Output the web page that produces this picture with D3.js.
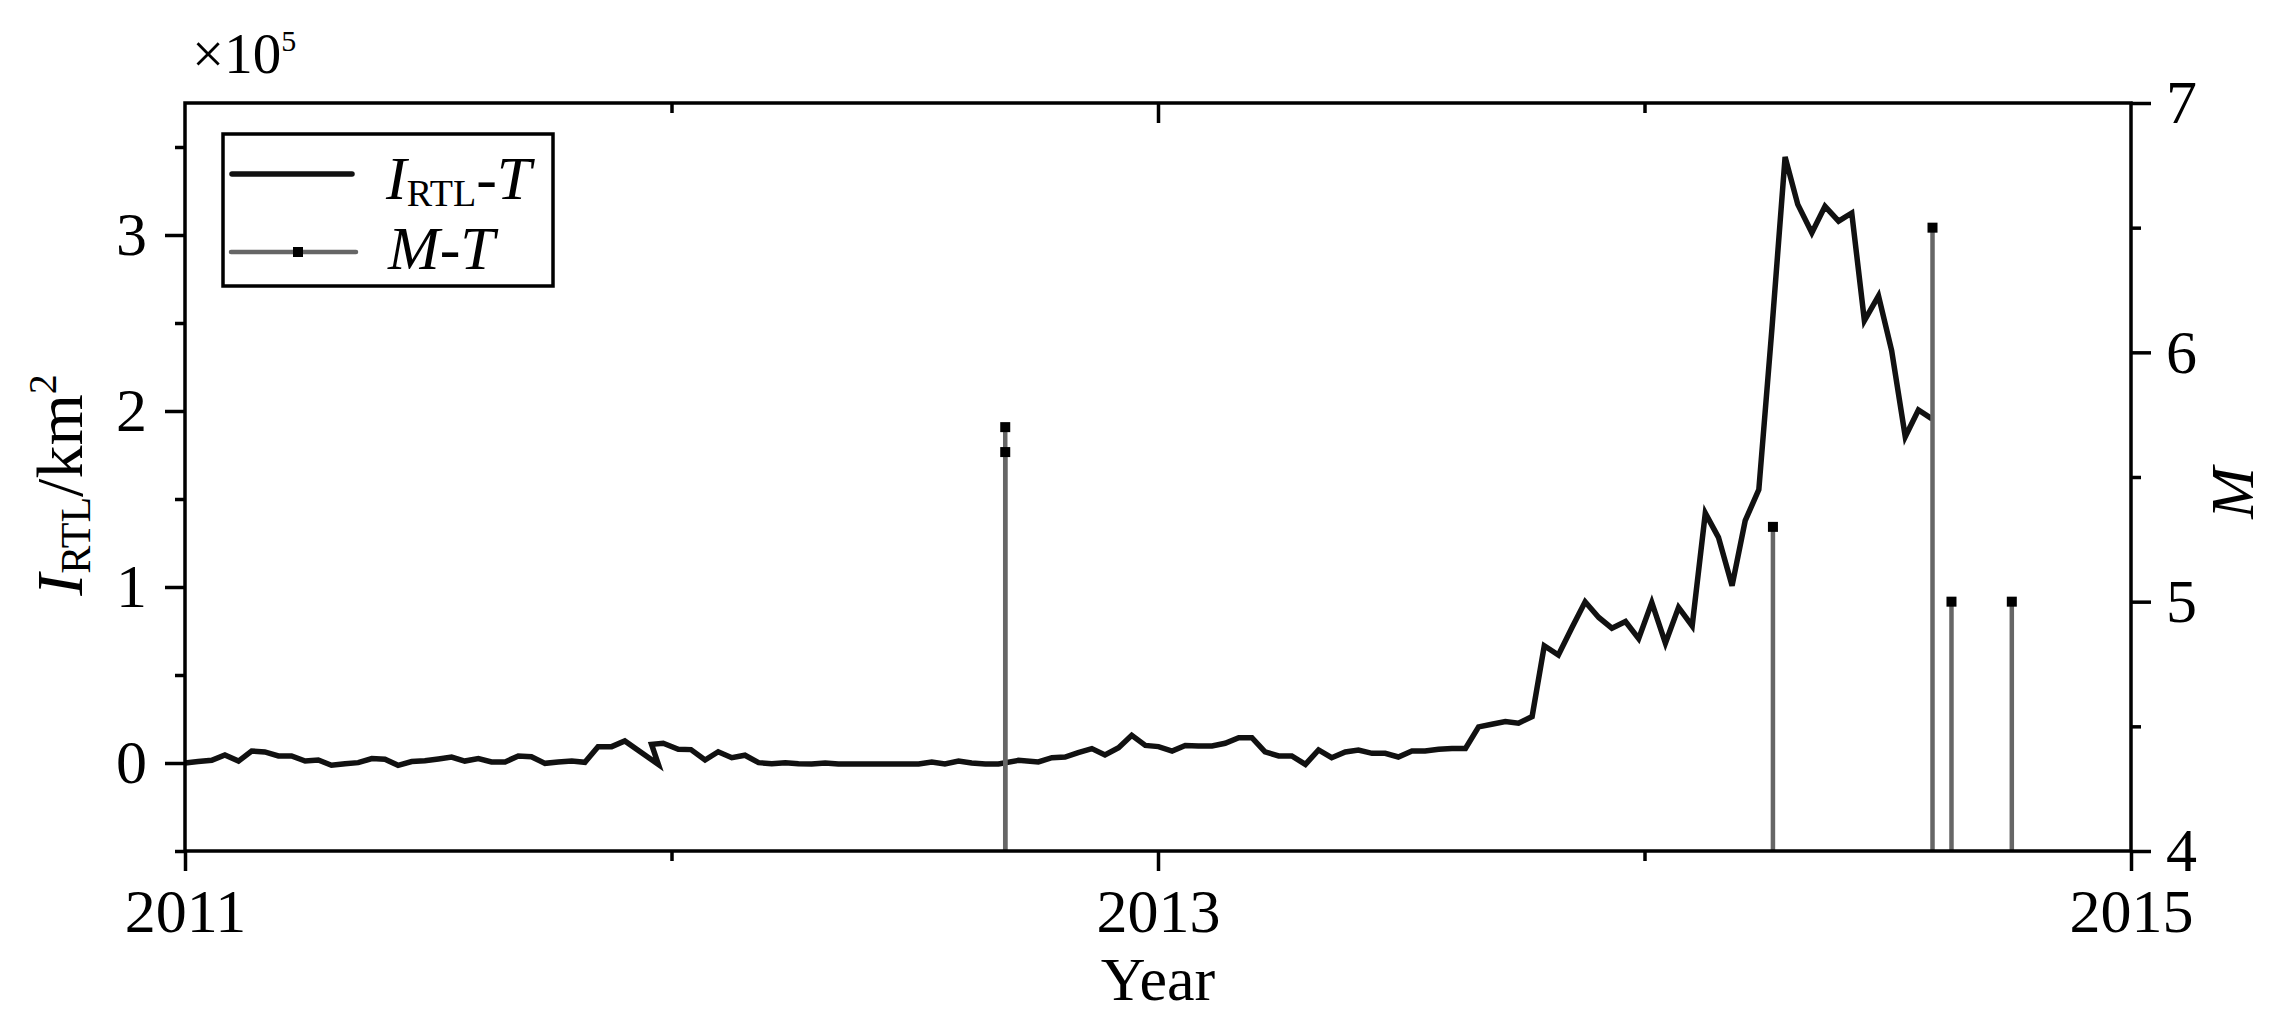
<!DOCTYPE html>
<html>
<head>
<meta charset="utf-8">
<script src="https://cdn.jsdelivr.net/npm/d3@7"></script>
<style>
    body { margin: 0; background: #fff; }
    svg { display: block; }
    text { font-family: "Liberation Serif", "Times New Roman", serif; fill: #000; }
</style>
</head>
<body>
<svg width="2272" height="1020"></svg>
<script>
/////////////////////////////////
// I_RTL-T curve and M-T earthquake stems.
//

// Sample dates (decimal year) and I_RTL values (x10^5 km^2).
const lineYears = [
    2011.000, 2011.027, 2011.055, 2011.082, 2011.110, 2011.137, 2011.164, 2011.192, 2011.219, 2011.247,
    2011.274, 2011.301, 2011.329, 2011.356, 2011.384, 2011.411, 2011.438, 2011.466, 2011.493, 2011.521,
    2011.548, 2011.575, 2011.603, 2011.630, 2011.658, 2011.685, 2011.712, 2011.740, 2011.767, 2011.795,
    2011.822, 2011.849, 2011.877, 2011.904, 2011.973, 2011.959, 2011.983, 2012.014, 2012.040, 2012.069,
    2012.096, 2012.124, 2012.151, 2012.179, 2012.206, 2012.234, 2012.261, 2012.288, 2012.316, 2012.343,
    2012.370, 2012.398, 2012.425, 2012.453, 2012.480, 2012.508, 2012.535, 2012.562, 2012.590, 2012.617,
    2012.645, 2012.672, 2012.713, 2012.754, 2012.782, 2012.809, 2012.836, 2012.864, 2012.891, 2012.919,
    2012.946, 2012.974, 2013.001, 2013.029, 2013.056, 2013.083, 2013.111, 2013.138, 2013.166, 2013.193,
    2013.220, 2013.248, 2013.275, 2013.303, 2013.330, 2013.357, 2013.385, 2013.412, 2013.440, 2013.467,
    2013.494, 2013.522, 2013.549, 2013.577, 2013.604, 2013.632, 2013.659, 2013.686, 2013.714, 2013.741,
    2013.769, 2013.794, 2013.823, 2013.851, 2013.878, 2013.906, 2013.933, 2013.961, 2013.988, 2014.015,
    2014.043, 2014.070, 2014.098, 2014.125, 2014.152, 2014.180, 2014.207, 2014.235, 2014.262, 2014.289,
    2014.315, 2014.344, 2014.371, 2014.399, 2014.426, 2014.452, 2014.481, 2014.508, 2014.536, 2014.563,
    2014.591
];
const lineValues = [
    0.000, 0.008, 0.015, 0.046, 0.011, 0.068, 0.063, 0.040, 0.040, 0.011,
    0.017, -0.013, -0.004, 0.002, 0.025, 0.021, -0.013, 0.008, 0.013, 0.023,
    0.034, 0.011, 0.025, 0.006, 0.006, 0.040, 0.036, -0.002, 0.006, 0.011,
    0.004, 0.093, 0.093, 0.125, -0.008, 0.106, 0.112, 0.078, 0.076, 0.017,
    0.064, 0.030, 0.044, 0.002, -0.004, 0.002, -0.004, -0.006, 0.000, -0.006,
    -0.006, -0.006, -0.006, -0.006, -0.006, -0.006, 0.006, -0.006, 0.011, 0.000,
    -0.006, -0.006, 0.015, 0.006, 0.030, 0.034, 0.059, 0.082, 0.046, 0.087,
    0.157, 0.100, 0.093, 0.068, 0.100, 0.097, 0.097, 0.112, 0.144, 0.144,
    0.063, 0.040, 0.040, -0.008, 0.074, 0.030, 0.063, 0.074, 0.055, 0.055,
    0.034, 0.068, 0.068, 0.078, 0.083, 0.083, 0.205, 0.220, 0.235, 0.226,
    0.264, 0.666, 0.614, 0.770, 0.916, 0.827, 0.766, 0.804, 0.707, 0.912,
    0.681, 0.884, 0.779, 1.420, 1.282, 1.007, 1.377, 1.553, 2.470, 3.443,
    3.174, 3.013, 3.163, 3.079, 3.125, 2.514, 2.654, 2.343, 1.854, 2.006,
    1.955
];

// Earthquakes: date (decimal year) and magnitude M.
const quakeYears = [2012.686, 2012.686, 2014.264, 2014.592, 2014.631, 2014.755];
const quakeMags = [5.7, 5.6, 5.3, 6.5, 5.0, 5.0];

// Axis ticks.
const xMajorTicks = [2011, 2013, 2015];
const xMinorTicks = [2012, 2014];
const leftMajorTicks = [0, 1, 2, 3];
const leftMinorTicks = [-0.5, 0.5, 1.5, 2.5, 3.5];
const rightMajorTicks = [4, 5, 6, 7];
const rightMinorTicks = [4.5, 5.5, 6.5];

document.addEventListener("DOMContentLoaded", () => {

    const svg = d3.select('svg');

    const left = 185, right = 2131, top = 103, bottom = 851;
    const fontSize = 62;
    const axisWidth = 3.5;
    const stemColor = '#666';

    const x = d3.scaleLinear().domain([2011, 2015]).range([left, right]);
    const yLeft = d3.scaleLinear().domain([-0.5, 3.75]).range([bottom, top]);
    const yRight = d3.scaleLinear().domain([4, 7]).range([bottom, top]);

    // Line series.
    const line = d3.line()
        .x((d) => x(d[0]))
        .y((d) => yLeft(d[1]));

    svg.append('path')
        .datum(lineYears.map((t, i) => [t, lineValues[i]]))
        .attr('d', line)
        .attr('fill', 'none')
        .attr('stroke', '#111')
        .attr('stroke-width', 5.5)
        .attr('stroke-linejoin', 'miter');

    // Stems from the bottom (M = 4) up to each magnitude.
    const quakes = quakeYears.map((t, i) => ({ t: t, m: quakeMags[i] }));

    svg.append('g').selectAll('line')
        .data(quakes)
        .enter()
        .append('line')
        .attr('x1', (d) => x(d.t))
        .attr('x2', (d) => x(d.t))
        .attr('y1', yRight(4))
        .attr('y2', (d) => yRight(d.m))
        .attr('stroke', stemColor)
        .attr('stroke-width', 4.5);

    svg.append('g').selectAll('rect')
        .data(quakes)
        .enter()
        .append('rect')
        .attr('x', (d) => x(d.t) - 5)
        .attr('y', (d) => yRight(d.m) - 5)
        .attr('width', 10)
        .attr('height', 10)
        .attr('fill', '#000');

    // Axes.
    const styleAxis = (g) => {

        g.select('.domain').remove();
        g.selectAll('.tick line')
            .attr('stroke', '#000')
            .attr('stroke-width', axisWidth);
        g.selectAll('.tick text')
            .attr('font-family', '"Liberation Serif", "Times New Roman", serif')
            .attr('font-size', fontSize);
    };

    svg.append('g')
        .attr('transform', `translate(0,${bottom})`)
        .call(d3.axisBottom(x).tickValues(xMajorTicks).tickSize(20).tickPadding(17).tickFormat(d3.format('d')))
        .call(styleAxis);
    svg.append('g')
        .attr('transform', `translate(0,${bottom})`)
        .call(d3.axisBottom(x).tickValues(xMinorTicks).tickSize(10).tickFormat(''))
        .call(styleAxis);

    // Top frame, ticks pointing inward.
    svg.append('g')
        .attr('transform', `translate(0,${top})`)
        .call(d3.axisBottom(x).tickValues([2013]).tickSize(20).tickFormat(''))
        .call(styleAxis);
    svg.append('g')
        .attr('transform', `translate(0,${top})`)
        .call(d3.axisBottom(x).tickValues(xMinorTicks).tickSize(10).tickFormat(''))
        .call(styleAxis);

    svg.append('g')
        .attr('transform', `translate(${left},0)`)
        .call(d3.axisLeft(yLeft).tickValues(leftMajorTicks).tickSize(20).tickPadding(18).tickFormat(d3.format('d')))
        .call(styleAxis);
    svg.append('g')
        .attr('transform', `translate(${left},0)`)
        .call(d3.axisLeft(yLeft).tickValues(leftMinorTicks).tickSize(10).tickFormat(''))
        .call(styleAxis);

    svg.append('g')
        .attr('transform', `translate(${right},0)`)
        .call(d3.axisRight(yRight).tickValues(rightMajorTicks).tickSize(20).tickPadding(15).tickFormat(d3.format('d')))
        .call(styleAxis);
    svg.append('g')
        .attr('transform', `translate(${right},0)`)
        .call(d3.axisRight(yRight).tickValues(rightMinorTicks).tickSize(10).tickFormat(''))
        .call(styleAxis);

    // Frame.
    svg.append('rect')
        .attr('x', left)
        .attr('y', top)
        .attr('width', right - left)
        .attr('height', bottom - top)
        .attr('fill', 'none')
        .attr('stroke', '#000')
        .attr('stroke-width', axisWidth);

    // Axis titles.
    svg.append('text')
        .attr('x', (left + right) / 2)
        .attr('y', 1000)
        .attr('text-anchor', 'middle')
        .attr('font-size', fontSize)
        .text('Year');

    const yTitle = svg.append('text')
        .attr('transform', 'translate(82,485) rotate(-90)')
        .attr('text-anchor', 'middle')
        .attr('font-size', 66);
    yTitle.append('tspan').attr('font-style', 'italic').text('I');
    yTitle.append('tspan').attr('font-size', 42).attr('dy', 8).text('RTL');
    yTitle.append('tspan').attr('dy', -8).text('/km');
    yTitle.append('tspan').attr('font-size', 40).attr('dy', -26).text('2');

    svg.append('text')
        .attr('transform', 'translate(2253,493) rotate(-90)')
        .attr('text-anchor', 'middle')
        .attr('font-size', fontSize)
        .attr('font-style', 'italic')
        .text('M');

    // Scale factor label.
    const factor = svg.append('text')
        .attr('x', 192)
        .attr('y', 73)
        .attr('font-size', 57);
    factor.append('tspan').text('\u00d710');
    factor.append('tspan').attr('font-size', 30).attr('dy', -22).text('5');

    // Legend.
    const legend = svg.append('g');
    legend.append('rect')
        .attr('x', 223)
        .attr('y', 134)
        .attr('width', 330)
        .attr('height', 152)
        .attr('fill', '#fff')
        .attr('stroke', '#000')
        .attr('stroke-width', axisWidth);

    legend.append('line')
        .attr('x1', 232).attr('x2', 352)
        .attr('y1', 174).attr('y2', 174)
        .attr('stroke', '#111')
        .attr('stroke-width', 5.5)
        .attr('stroke-linecap', 'round');
    const t1 = legend.append('text')
        .attr('x', 386)
        .attr('y', 199)
        .attr('font-size', fontSize);
    t1.append('tspan').attr('font-style', 'italic').text('I');
    t1.append('tspan').attr('font-size', 38).attr('dy', 7).text('RTL');
    t1.append('tspan').attr('dy', -7).text('-');
    t1.append('tspan').attr('font-style', 'italic').text('T');

    legend.append('line')
        .attr('x1', 231).attr('x2', 356)
        .attr('y1', 252).attr('y2', 252)
        .attr('stroke', stemColor)
        .attr('stroke-width', 4.5)
        .attr('stroke-linecap', 'round');
    legend.append('rect')
        .attr('x', 293).attr('y', 247)
        .attr('width', 10).attr('height', 10)
        .attr('fill', '#000');
    const t2 = legend.append('text')
        .attr('x', 388)
        .attr('y', 269)
        .attr('font-size', fontSize);
    t2.append('tspan').attr('font-style', 'italic').text('M');
    t2.append('tspan').text('-');
    t2.append('tspan').attr('font-style', 'italic').text('T');
});
</script>
</body>
</html>
